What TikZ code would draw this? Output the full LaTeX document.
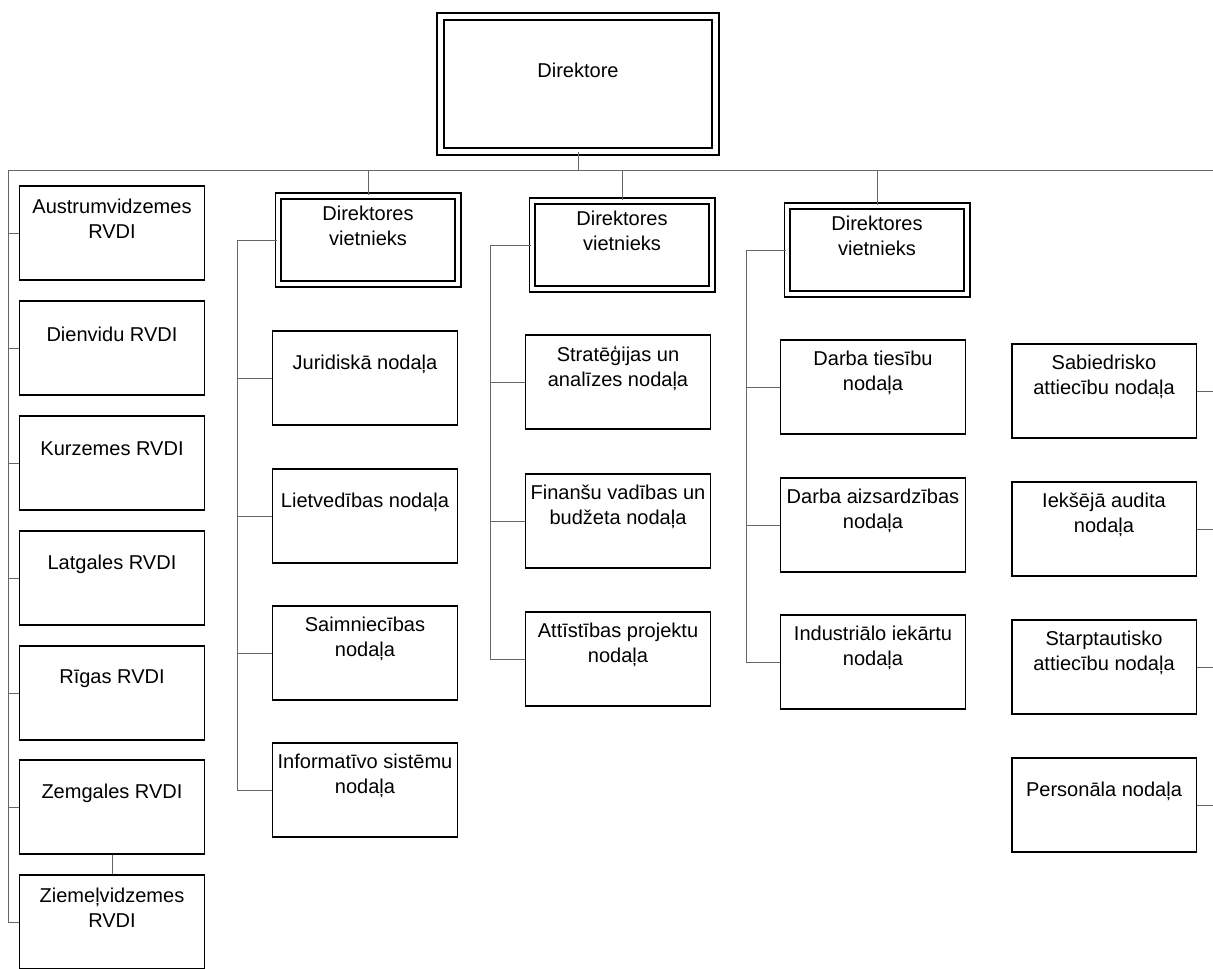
\documentclass[tikz,border=0pt]{standalone}
\usepackage{fontspec}
\setmainfont{Liberation Sans}

\tikzset{
  boxsize/.style 2 args={inner sep=0pt,
    execute at begin node={\begin{minipage}[c][#2][c]{#1}\centering},
    execute at end node={\par\vspace*{0.56cm}\end{minipage}}},
  orgbox/.style={draw, line width=1.1pt, boxsize={3.7cm}{1.88cm}},
  deputy/.style={draw, double, double distance=2.2pt, line width=0.9pt, boxsize={3.6cm}{1.76cm}},
  headbox/.style={draw, double, double distance=2.6pt, line width=1pt, boxsize={5.5cm}{2.7cm}},
  link/.style={black!60, line width=0.5pt}
}

\begin{document}
\begin{tikzpicture}[x=0.02cm, y=-0.02cm, font=\fontsize{11.4}{14.2}\selectfont]
      \useasboundingbox (0,0) rectangle (1213,969);
      \node[headbox] (dir) at (578,84) {Direktore};

      \node[orgbox] (aus) at (112,233) {Austrumvidzemes\\RVDI};
      \node[orgbox] (die) at (112,348) {Dienvidu RVDI};
      \node[orgbox] (kur) at (112,463) {Kurzemes RVDI};
      \node[orgbox] (lat) at (112,578) {Latgales RVDI};
      \node[orgbox] (rig) at (112,693) {Rīgas RVDI};
      \node[orgbox] (zem) at (112,807) {Zemgales RVDI};
      \node[orgbox] (zie) at (112,922) {Ziemeļvidzemes\\RVDI};

      \node[deputy] (dep1) at (368,240) {Direktores\\vietnieks};
      \node[orgbox] (jur) at (365,378) {Juridiskā nodaļa};
      \node[orgbox] (liet) at (365,516) {Lietvedības nodaļa};
      \node[orgbox] (saim) at (365,653) {Saimniecības\\nodaļa};
      \node[orgbox] (info) at (365,790) {Informatīvo sistēmu\\nodaļa};

      \node[deputy] (dep2) at (622,245) {Direktores\\vietnieks};
      \node[orgbox] (strat) at (618,382) {Stratēģijas un\\analīzes nodaļa};
      \node[orgbox] (fin) at (618,521) {Finanšu vadības un\\budžeta nodaļa};
      \node[orgbox] (att) at (618,659) {Attīstības projektu\\nodaļa};

      \node[deputy] (dep3) at (877,250) {Direktores\\vietnieks};
      \node[orgbox] (dt) at (873,387) {Darba tiesību\\nodaļa};
      \node[orgbox] (da) at (873,525) {Darba aizsardzības\\nodaļa};
      \node[orgbox] (ind) at (873,662) {Industriālo iekārtu\\nodaļa};

      \node[orgbox] (sab) at (1104,391) {Sabiedrisko\\attiecību nodaļa};
      \node[orgbox] (iek) at (1104,529) {Iekšējā audita\\nodaļa};
      \node[orgbox] (star) at (1104,667) {Starptautisko\\attiecību nodaļa};
      \node[orgbox] (pers) at (1104,805) {Personāla nodaļa};

      \coordinate (barL) at (8,170);
      \coordinate (barR) at (1213,170);
      \coordinate (sp1) at (237,0);
      \coordinate (sp2) at (490,0);
      \coordinate (sp3) at (746,0);

      \draw[link] (barL) -- (barR);
      \draw[link] (dir) -- (dir |- barL);
      \foreach \d in {dep1,dep2,dep3}
        \draw[link] (\d) -- (\d |- barL);

      \draw[link] (barL) |- (zie);
      \foreach \r in {aus,die,kur,lat,rig,zem}
        \draw[link] (\r) -- (\r -| barL);
      \draw[link] (zem) -- (zie);

      \draw[link] (dep1.west) -| (sp1 |- info) -- (info);
      \foreach \n in {jur,liet,saim}
        \draw[link] (\n.west) -- (\n.west -| sp1);

      \draw[link] (dep2.west) -| (sp2 |- att) -- (att);
      \foreach \n in {strat,fin}
        \draw[link] (\n.west) -- (\n.west -| sp2);

      \draw[link] (dep3.west) -| (sp3 |- ind) -- (ind);
      \foreach \n in {dt,da}
        \draw[link] (\n.west) -- (\n.west -| sp3);

      \foreach \n in {sab,iek,star,pers}
        \draw[link] (\n.east) -- (\n.east -| barR);
\end{tikzpicture}
\end{document}
